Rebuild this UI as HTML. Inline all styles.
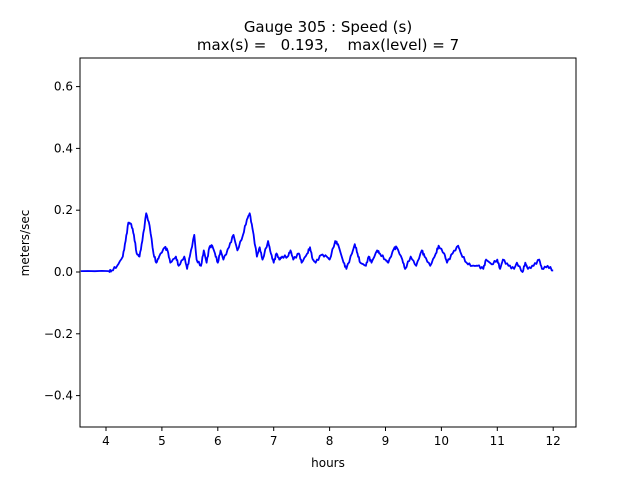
<!DOCTYPE html>
<html><head><meta charset="utf-8"><style>
html,body{margin:0;padding:0;background:#fff;}
svg{display:block;font-family:"DejaVu Sans","Liberation Sans",sans-serif;}
</style></head><body>
<svg id="s" width="640" height="480" viewBox="0 0 640 480">
<rect width="640" height="480" fill="#fff"/>
<text x="328" y="32" font-size="15" text-anchor="middle">Gauge 305 : Speed (s)</text>
<text x="328" y="50" font-size="15" text-anchor="middle" xml:space="preserve">max(s) =   0.193,    max(level) = 7</text>
<polyline id="p" fill="none" stroke="#0000ff" stroke-width="1.8" stroke-linejoin="round" points=""/>
<rect x="80" y="58" width="496" height="369" fill="none" stroke="#000" stroke-width="1"/>
<g id="ax" font-size="12"></g>
<text x="328" y="467" font-size="12" text-anchor="middle">hours</text>
<text transform="translate(29,243) rotate(-90)" font-size="12" text-anchor="middle">meters/sec</text>
</svg>
<script>
var X=function(h){return 106+55.9*(h-4)},Y=function(v){return 272-309*v};
var d=[[3.55,.003],[4.05,.003],[4.1,.005],[4.2,.02],[4.3,.05],[4.35,.1],[4.4,.16],[4.45,.155],[4.5,.12],[4.55,.06],[4.6,.05],[4.65,.1],[4.72,.19],[4.78,.15],[4.85,.06],[4.9,.03],[4.95,.05],[5.05,.08],[5.1,.07],[5.15,.03],[5.25,.05],[5.3,.02],[5.4,.05],[5.45,.01],[5.5,.05],[5.58,.12],[5.62,.04],[5.7,.02],[5.75,.07],[5.8,.03],[5.85,.08],[5.9,.085],[5.95,.06],[6,.03],[6.05,.07],[6.1,.04],[6.2,.08],[6.28,.12],[6.35,.07],[6.45,.12],[6.52,.17],[6.57,.19],[6.62,.14],[6.7,.05],[6.75,.08],[6.8,.04],[6.9,.1],[6.95,.06],[7,.03],[7.05,.06],[7.1,.04],[7.15,.05],[7.25,.05],[7.3,.07],[7.35,.04],[7.45,.06],[7.5,.03],[7.6,.06],[7.65,.08],[7.7,.04],[7.75,.03],[7.85,.055],[7.95,.05],[8,.04],[8.1,.1],[8.15,.09],[8.25,.03],[8.3,.01],[8.4,.06],[8.45,.09],[8.5,.06],[8.55,.03],[8.65,.02],[8.7,.05],[8.75,.03],[8.85,.07],[8.9,.06],[9,.04],[9.05,.03],[9.15,.075],[9.2,.08],[9.3,.04],[9.35,.01],[9.45,.05],[9.55,.02],[9.65,.07],[9.7,.05],[9.8,.02],[9.9,.06],[9.95,.085],[10.05,.06],[10.1,.03],[10.2,.06],[10.3,.085],[10.35,.06],[10.45,.03],[10.55,.02],[10.65,.02],[10.75,.01],[10.8,.04],[10.9,.025],[11,.04],[11.05,.01],[11.1,.04],[11.2,.02],[11.3,.01],[11.35,.03],[11.45,0],[11.5,.03],[11.55,.01],[11.65,.02],[11.75,.04],[11.8,.01],[11.9,.02],[12,.005]];
var pts=[];for(var i=0;i<d.length;i++){var a=d[i],b=d[i+1];pts.push(X(a[0]).toFixed(1)+","+Y(a[1]).toFixed(1));
if(b){for(var k=1;k<4;k++){var t=k/4,h=a[0]+(b[0]-a[0])*t,v=a[1]+(b[1]-a[1])*t+(Math.sin(i*7.3+k*3.1)*0.004);pts.push(X(h).toFixed(1)+","+Y(v).toFixed(1));}}}
document.getElementById('p').setAttribute('points',pts.join(' '));
var g='';for(var h=4;h<=12;h++){var x=X(h);g+='<line x1="'+x+'" y1="427" x2="'+x+'" y2="431" stroke="#000"/><text x="'+x+'" y="445" text-anchor="middle">'+h+'</text>';}
var ys=[0.6,0.4,0.2,0,-0.2,-0.4];ys.forEach(function(v){var y=Y(v);g+='<line x1="76" y1="'+y+'" x2="80" y2="'+y+'" stroke="#000"/><text x="73" y="'+(y+4)+'" text-anchor="end">'+(v<0?'\u2212'+(-v).toFixed(1):v.toFixed(1))+'</text>';});
document.getElementById('ax').innerHTML=g;
</script>
</body></html>
